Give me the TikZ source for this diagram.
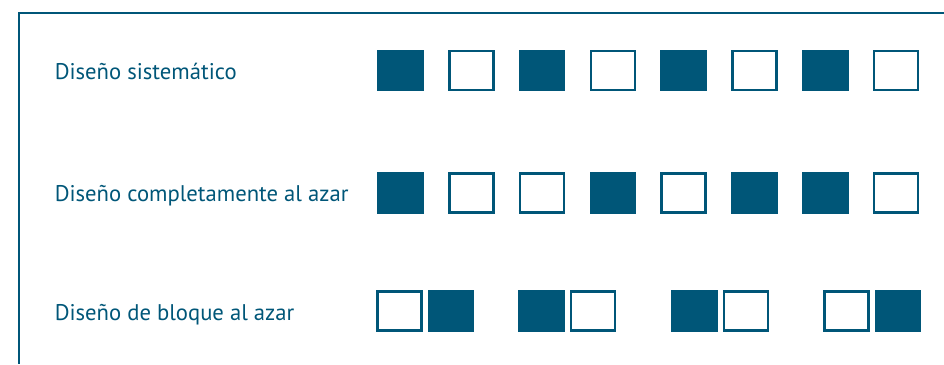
\documentclass[tikz,border=0pt]{standalone}
\usepackage{fontspec}
\setmainfont{PT Sans}
\usepackage{tikz}
\usetikzlibrary{positioning}
\definecolor{designblue}{RGB}{0,86,120}

\begin{document}
\begin{tikzpicture}[
    x=0.75pt, y=-0.75pt,
    node distance=18.2pt,
    rowlabel/.style={anchor=base west, inner sep=0pt, text=designblue, font=\fontsize{17}{20}\selectfont},
    plot/.style={rectangle, draw=designblue, line width=1.9pt, minimum width=33pt, minimum height=29.5pt, inner sep=0pt},
    treated/.style={plot, fill=designblue},
    control/.style={plot, fill=white},
    pairgap/.style={node distance=3.7pt}
]
\useasboundingbox (0,0) rectangle (944,364);
% frame, only top and left edges fall inside the page
\draw[designblue, line width=1.9pt] (944,13) -- (19,13) -- (19,364);

\node[rowlabel] (labsys) at (54.5,79) {Diseño sistemático};
\node[rowlabel] (labcr) at (54.5,201) {Diseño completamente al azar};
\node[rowlabel] (labbl) at (54.5,320) {Diseño de bloque al azar};

% systematic
\node[treated] (sys1) at (400.5,70.5) {};
\node[control, right=of sys1] (sys2) {};
\node[treated, right=of sys2] (sys3) {};
\node[control, right=of sys3] (sys4) {};
\node[treated, right=of sys4] (sys5) {};
\node[control, right=of sys5] (sys6) {};
\node[treated, right=of sys6] (sys7) {};
\node[control, right=of sys7] (sys8) {};

% completely random
\node[treated, below=60.5pt of sys1] (cr1) {};
\node[control, right=of cr1] (cr2) {};
\node[control, right=of cr2] (cr3) {};
\node[treated, right=of cr3] (cr4) {};
\node[control, right=of cr4] (cr5) {};
\node[treated, right=of cr5] (cr6) {};
\node[treated, right=of cr6] (cr7) {};
\node[control, right=of cr7] (cr8) {};

% randomized blocks
\node[control] (bl1) at (399.5,311) {};
\node[treated, pairgap, right=of bl1] (bl2) {};
\node[treated] (bl3) at (541.5,311) {};
\node[control, pairgap, right=of bl3] (bl4) {};
\node[treated] (bl5) at (694.5,311) {};
\node[control, pairgap, right=of bl5] (bl6) {};
\node[control] (bl7) at (846.5,311) {};
\node[treated, pairgap, right=of bl7] (bl8) {};
\end{tikzpicture}
\end{document}
